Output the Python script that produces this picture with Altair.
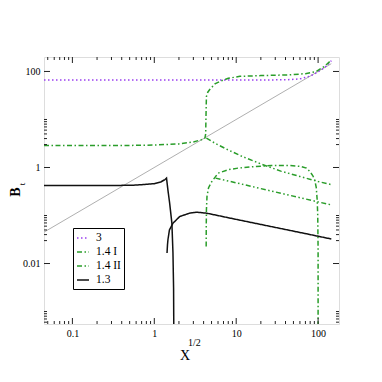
import altair as alt
import pandas as pd

# ---------------- data ----------------
names = ["3", "1.4 I", "1.4 II", "1.3"]

diag_x = [0.045, 145]
diag_y = [0.045, 145]

s3_x = [0.045, 1, 10, 40, 60, 80, 95, 115, 130, 145]
s3_y = [66, 66, 66, 67, 70, 80, 93, 115, 135, 168]

s14I_up_x = [0.045, 0.5, 1.0, 2.0, 3.0, 3.8, 4.15, 4.24, 4.27, 4.3, 4.33, 4.5, 4.75, 5.5, 6.3, 8, 11.1, 20, 45, 70, 95, 120, 145]
s14I_up_y = [2.87, 2.88, 2.93, 3.1, 3.4, 3.8, 4.1, 5, 10, 18, 30, 37, 42, 55, 62, 72, 79, 82, 85, 90, 100, 128, 172]

s14I_lo_x = [4.30, 4.31, 4.33, 4.4, 4.6, 5.0, 6.0, 8.0, 10.5, 16, 27, 45, 62, 72, 79, 86, 91, 95, 97.5, 99, 100, 100]
s14I_lo_y = [0.0226, 0.06, 0.13, 0.25, 0.38, 0.5, 0.76, 0.9, 0.97, 1.04, 1.1, 1.1, 1.05, 0.97, 0.83, 0.68, 0.55, 0.38, 0.21, 0.1, 0.02, 0.0004]

s14II_a_x = [4.33, 5.5, 7.9, 12, 20.4, 35, 60, 100, 145]
s14II_a_y = [4.1, 3.2, 2.34, 1.68, 1.17, 0.84, 0.65, 0.51, 0.44]

s14II_b_x = [5.6, 10, 20, 40, 100, 145]
s14II_b_y = [0.6, 0.48, 0.363, 0.276, 0.192, 0.166]

s13_a_x = [0.045, 0.3, 0.6, 1.0, 1.2, 1.35, 1.41, 1.47, 1.54, 1.64, 1.69, 1.72, 1.73]
s13_a_y = [0.42, 0.42, 0.43, 0.46, 0.5, 0.56, 0.6, 0.33, 0.18, 0.069, 0.0166, 0.003, 0.0004]

s13_b_x = [1.43, 1.45, 1.47, 1.53, 1.69, 2.04, 2.7, 3.3, 4.33, 10, 30, 70, 145]
s13_b_y = [0.0166, 0.025, 0.032, 0.05, 0.069, 0.095, 0.112, 0.117, 0.112, 0.083, 0.0565, 0.042, 0.0324]

x_major = [0.1, 1, 10, 100]
x_minor = [0.05, 0.06, 0.07, 0.08, 0.09,
           0.2, 0.3, 0.4, 0.5, 0.6, 0.7, 0.8, 0.9,
           2, 3, 4, 5, 6, 7, 8, 9,
           20, 30, 40, 50, 60, 70, 80, 90]
y_major = [0.01, 1, 100]
y_minor = [6e-4, 7e-4, 8e-4, 9e-4, 1e-3,
           0.03, 0.04, 0.05, 0.06, 0.07, 0.08, 0.09, 0.1,
           3, 4, 5, 6, 7, 8, 9, 10]

colors = ["#9a3ff0", "#2a9d2a", "#2a9d2a", "#111111"]
dashes = [[1.5, 2.5], [5, 2.5, 1.5, 2.5], [5, 2.5, 1.5, 2.5, 1.5, 2.5], [1, 0]]

# ---------------- build table ----------------
segs = [
    ("3", "a", s3_x, s3_y),
    ("1.4 I", "b", s14I_up_x, s14I_up_y),
    ("1.4 I", "c", s14I_lo_x, s14I_lo_y),
    ("1.4 II", "d", s14II_a_x, s14II_a_y),
    ("1.4 II", "e", s14II_b_x, s14II_b_y),
    ("1.3", "f", s13_a_x, s13_a_y),
    ("1.3", "g", s13_b_x, s13_b_y),
]
rows = []
for s, g, xs_, ys_ in segs:
    for i, (a, b) in enumerate(zip(xs_, ys_)):
        rows.append({"s": s, "seg": g, "o": i, "x": a, "y": b})
df = pd.DataFrame(rows)
diag = pd.DataFrame({"x": diag_x, "y": diag_y})

W, H = 295, 267
FONT = "Liberation Serif"

xs = alt.Scale(type="log", domain=[0.045, 180], nice=False)
ys = alt.Scale(type="log", domain=[5.5e-4, 200], nice=False)
xaxis = alt.Axis(values=x_major, format="~g", title=None, ticks=False, tickSize=0,
                 domain=False, grid=False, labelPadding=4, labelFont=FONT,
                 labelFontSize=10, labelColor="black")
yaxis = alt.Axis(values=y_major, format="~g", title=None, ticks=False, tickSize=0,
                 domain=False, grid=False, labelPadding=4, labelFont=FONT,
                 labelFontSize=10, labelColor="black")
X = alt.X("x:Q", scale=xs, axis=xaxis)
Y = alt.Y("y:Q", scale=ys, axis=yaxis)

leg = alt.Legend(title=None, orient="none", legendX=29, legendY=171,
                 symbolType="stroke", symbolSize=144, symbolStrokeWidth=1.5,
                 labelFont=FONT, labelFontSize=11.5, labelColor="black",
                 labelOffset=6, padding=3, rowPadding=1,
                 strokeColor="black", fillColor="white")

diag_layer = alt.Chart(diag).mark_line(color="#9a9a9a", strokeWidth=0.8, clip=True).encode(x=X, y=Y)

lines = alt.Chart(df).mark_line(strokeWidth=1.5, clip=True).encode(
    x=X, y=Y,
    color=alt.Color("s:N", scale=alt.Scale(domain=names, range=colors), legend=leg),
    strokeDash=alt.StrokeDash("s:N", scale=alt.Scale(domain=names, range=dashes), legend=leg),
    detail="seg:N",
    order="o:Q",
)


def xticks(vals, length, top):
    d = pd.DataFrame({"x": vals})
    y1 = 0 if top else H
    y2 = length if top else H - length
    return alt.Chart(d).mark_rule(color="#222", strokeWidth=1).encode(
        x=X, y=alt.value(y1), y2=alt.value(y2))


def yticks(vals, length, right):
    d = pd.DataFrame({"y": vals})
    x1 = W if right else 0
    x2 = W - length if right else length
    return alt.Chart(d).mark_rule(color="#222", strokeWidth=1).encode(
        y=Y, x=alt.value(x1), x2=alt.value(x2))


ticks = [
    xticks(x_major, 6, False), xticks(x_minor, 3, False),
    xticks(x_major, 6, True), xticks(x_minor, 3, True),
    yticks(y_major, 6, False), yticks(y_minor, 3, False),
    yticks(y_major, 6, True), yticks(y_minor, 3, True),
]

one = pd.DataFrame({"k": [0]})
t_X = alt.Chart(one).mark_text(text="X", font=FONT, fontSize=14, color="black",
                               align="center", baseline="middle").encode(
    x=alt.value(141), y=alt.value(299))
t_half = alt.Chart(one).mark_text(text="1/2", font=FONT, fontSize=10, color="black",
                                  align="left", baseline="middle").encode(
    x=alt.value(144), y=alt.value(286))
t_B = alt.Chart(one).mark_text(text="B", font=FONT, fontSize=14, fontWeight="bold",
                               color="black", align="center", baseline="middle",
                               angle=270).encode(x=alt.value(-28), y=alt.value(135))
t_t = alt.Chart(one).mark_text(text="t", font=FONT, fontSize=9, color="black",
                               align="center", baseline="middle",
                               angle=270).encode(x=alt.value(-22), y=alt.value(127))

chart = alt.layer(diag_layer, lines, *ticks, t_X, t_half, t_B, t_t).properties(
    width=W, height=H,
    padding={"left": 36, "top": 49, "right": 30, "bottom": 50},
    autosize=alt.AutoSizeParams(type="none"),
).configure_view(stroke="#222", strokeWidth=1.2).configure(background="white")

chart.save("out.html", embed_options={"renderer": "svg", "actions": False})
